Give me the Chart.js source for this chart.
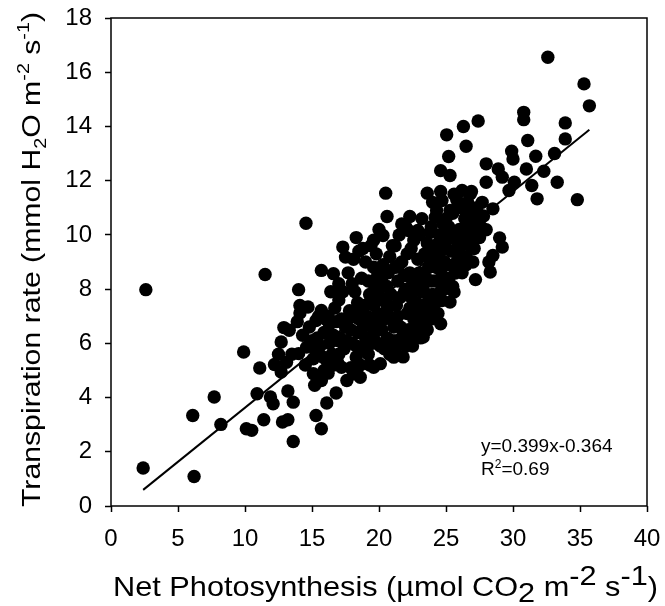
<!DOCTYPE html>
<html>
<head>
<meta charset="utf-8">
<script src="https://cdn.jsdelivr.net/npm/chart.js@4.4.1/dist/chart.umd.min.js"></script>
<style>
  body { margin: 0; background: #fff; }
  #wrap { width: 665px; height: 606px; }
</style>
</head>
<body>
<div id="wrap"><canvas id="chart" width="665" height="606"></canvas></div>
<script>
// net photosynthesis (x) and transpiration rate (y)
const photoX = [
  2.6, 2.4, 6.2, 6.1, 7.7, 8.2, 9.9, 10.1, 10.5, 11.4, 11.1, 10.9, 11.5, 11.9, 12.1, 12.2, 12.7, 12.7, 12.9, 13.3,
  12.8, 13.2, 13.2, 13.6, 13.6, 14.0, 14.1, 14.1, 14.7, 15.3, 15.7, 16.1, 16.8, 15.7, 15.3, 15.7, 16.6, 17.3, 17.5, 15.1,
  15.2, 15.7, 14.0, 14.6, 15.1, 16.1, 17.2, 17.6, 18.1, 19.6, 19.6, 14.55, 18.3, 18.8, 19.6, 20.3, 21.2,
  32.6, 35.3, 35.7, 30.8, 30.8, 33.9, 27.4, 26.3, 25.05, 33.9, 31.1, 26.5, 29.9, 33.1, 31.7, 25.2, 30.0, 28.0, 28.9, 31.0,
  24.6, 32.3, 25.3, 29.2, 28.0, 30.1, 33.3, 31.4, 26.2, 29.7, 20.5, 23.6, 26.8, 31.8, 34.8, 24.7, 27.7, 25.9, 28.5, 20.6,
  22.3, 24.2, 26.8, 27.3, 22.2, 22.9, 23.8, 28.0, 29.0, 29.2, 26.7, 26.0, 24.4, 25.05,
  28.5, 28.2, 28.3, 27.2, 25.7, 25.6, 25.3, 24.6, 23.3, 21.1, 20.1, 19.6, 18.6, 22.4, 22.9, 23.8, 24.7, 26.0, 26.8,
  15.6, 15.9, 16.3, 16.5, 16.8, 16.2, 17.0, 16.4, 17.1, 16.9, 17.4, 15.9,
  17.5, 17.8, 18.0, 18.3, 18.5, 18.2, 18.7, 17.7, 18.9, 19.0, 18.6, 17.9, 19.2, 19.4, 19.3, 18.1,
  19.7, 19.9, 20.0, 20.2, 20.4, 20.5, 20.7, 20.9, 20.8, 21.0, 19.8, 20.3,
  21.3, 21.4, 21.6, 21.7, 21.9, 22.0, 22.1, 22.3, 22.4, 22.6, 22.7, 22.8, 21.5, 22.9, 21.2, 23.0,
  23.1, 23.2, 23.4, 23.5, 23.7, 23.9, 24.0, 24.1, 24.2, 24.4, 24.5, 24.6, 24.8, 24.9, 23.6, 24.3,
  25.1, 25.2, 25.4, 25.5, 25.8, 26.0, 26.2, 26.4, 26.5, 26.9, 25.6, 26.6, 27.0, 27.5, 27.8,
  14.3, 14.8, 15.0, 14.5, 13.9, 13.5, 13.1, 12.5, 21.8, 22.5, 24.3,
  15.4, 15.8, 16.0, 16.6, 16.7, 17.2, 17.3, 17.6, 17.9, 18.1, 18.4, 18.4, 18.8, 18.9, 19.1, 19.5, 19.6, 19.8, 20.1, 20.1,
  20.4, 20.6, 20.6, 20.9, 21.1, 21.2, 21.4, 21.6, 21.8, 21.9, 22.1, 22.2, 22.4, 22.5, 22.7, 22.9, 23.0, 23.1, 23.3, 23.4,
  23.6, 23.7, 23.9, 24.0, 24.2, 24.3, 24.5, 24.7, 24.8, 25.0, 25.2, 25.4, 25.5, 25.7, 25.9, 26.1, 26.3, 26.5, 26.7, 27.1,
  27.3, 27.6, 16.2, 17.0, 18.0, 19.0, 19.9, 21.0, 22.0, 23.2, 24.0, 19.3, 20.8,
  16.9, 17.7, 18.6, 19.4, 19.2, 20.2, 20.6, 21.3, 21.5, 22.0, 22.3, 22.6, 23.1, 23.5, 23.8, 24.1, 24.6, 24.9, 25.3, 25.8,
  18.5, 19.4, 20.0, 17.0, 16.3, 15.5, 15.3, 16.6, 18.3, 19.6, 20.9, 22.1, 23.9, 26.2, 26.9, 27.4, 21.7, 23.0, 24.6, 25.0
];
const transY = [
  7.98, 1.4, 1.09, 3.34, 4.02, 3.01, 5.68, 2.85, 2.79, 3.18, 5.09, 4.14, 8.54, 4.02, 3.77, 5.22, 4.94, 6.05, 6.58, 6.48,
  3.1, 3.18, 4.24, 3.83, 2.38, 7.98, 7.4, 7.12, 7.34, 3.34, 2.85, 3.8, 4.17, 7.21, 6.84, 8.69, 8.57, 9.55, 9.18, 4.88,
  4.45, 4.63, 5.62, 5.86, 5.43, 5.37, 5.12, 4.63, 4.88, 8.81, 8.2, 10.43, 9.9, 9.5, 9.8, 9.98, 9.6,
  16.55, 15.57, 14.76, 14.52, 14.25, 14.13, 14.2, 14.0, 13.69, 13.54, 13.48, 13.27, 13.09, 13.0, 12.9, 12.89, 12.8, 12.62, 12.43, 12.43,
  12.37, 12.35, 12.19, 12.13, 11.94, 11.94, 11.94, 11.82, 11.64, 11.64, 11.54, 11.54, 11.51, 11.33, 11.3, 11.27, 11.2, 11.08, 10.96, 10.68,
  10.68, 10.65, 10.78, 10.59, 10.16, 10.16, 10.1, 10.19, 9.89, 9.55, 9.73, 9.49, 9.67, 9.49,
  9.24, 9.0, 8.63, 8.35, 8.59, 7.89, 7.52, 6.72, 6.23, 5.49, 5.25, 5.12, 4.75, 6.23, 6.55, 7.33, 7.58, 9.3, 9.61,
  5.9, 6.4, 6.0, 5.6, 6.8, 7.0, 7.6, 7.9, 6.2, 5.3, 5.8, 5.0,
  6.6, 7.2, 6.0, 5.5, 6.9, 7.9, 8.4, 8.6, 7.4, 6.2, 5.2, 5.1, 5.6, 6.8, 7.8, 9.1,
  6.1, 7.1, 8.0, 6.5, 5.8, 7.5, 8.6, 6.9, 9.2, 6.1, 9.3, 8.9,
  7.4, 8.3, 6.6, 9.0, 7.9, 5.9, 7.1, 8.6, 9.5, 6.9, 8.0, 7.5, 10.0, 9.1, 5.8, 6.7,
  8.4, 7.9, 9.3, 7.0, 8.8, 10.3, 7.8, 9.0, 8.3, 7.1, 10.0, 8.7, 9.5, 8.0, 6.5, 10.9,
  8.9, 10.3, 9.9, 10.8, 9.0, 10.2, 8.6, 10.6, 9.2, 10.1, 11.5, 11.2, 9.0, 9.9, 10.7,
  6.3, 6.6, 6.1, 5.2, 6.8, 5.6, 5.3, 5.6, 5.5, 5.9, 9.4,
  6.2, 5.5, 6.9, 6.3, 7.3, 6.9, 7.9, 6.1, 6.5, 7.0, 6.4, 7.5, 6.6, 5.8, 7.0, 6.0, 7.4, 6.7, 7.7, 5.9,
  6.9, 6.2, 8.1, 7.8, 6.6, 8.8, 7.0, 7.7, 6.3, 8.5, 9.3, 6.5, 7.7, 8.3, 6.2, 7.0, 8.6, 7.4, 8.0, 6.9,
  9.7, 7.6, 8.3, 9.5, 7.5, 8.8, 9.2, 8.3, 10.4, 9.9, 8.4, 9.4, 8.1, 10.0, 9.6, 11.0, 9.8, 8.9, 10.3, 9.5,
  11.0, 10.3, 4.9, 5.6, 8.2, 9.0, 8.5, 9.6, 10.3, 10.6, 11.2, 5.2, 5.6,
  6.1, 6.9, 7.2, 7.7, 8.3, 8.4, 7.2, 6.1, 8.9, 8.0, 7.3, 9.8, 6.2, 8.4, 9.1, 7.0, 7.9, 9.0, 10.9, 11.3,
  9.4, 9.6, 10.2, 8.2, 6.7, 7.0, 5.7, 5.2, 5.9, 6.4, 5.9, 6.0, 6.9, 10.0, 11.6, 10.4, 10.4, 10.0, 11.6, 10.6
];
// fitted line y = 0.399x - 0.364, end points as drawn
const fitX = [2.4, 35.7];
const fitY = [0.594, 13.88];
const xTicks = [0, 5, 10, 15, 20, 25, 30, 35, 40];
const yTicks = [0, 2, 4, 6, 8, 10, 12, 14, 16, 18];

const FONT = "'Liberation Sans', Arial, sans-serif";

const points = photoX.map((x, i) => ({ x: x, y: transY[i] }));
const fitLine = fitX.map((x, i) => ({ x: x, y: fitY[i] }));

// draws a run of text pieces with sub/superscripts, stretched to a target length
function drawRich(ctx, parts, size, target) {
  let total = 0;
  parts.forEach(p => {
    ctx.font = Math.round(size * (p.s || 1)) + 'px ' + FONT;
    total += ctx.measureText(p.t).width;
  });
  const k = target ? target / total : 1;
  ctx.scale(k, 1);
  let x = 0;
  parts.forEach(p => {
    ctx.font = Math.round(size * (p.s || 1)) + 'px ' + FONT;
    ctx.fillText(p.t, x, p.d || 0);
    x += ctx.measureText(p.t).width;
  });
}

const decor = {
  id: 'decor',
  afterDraw(chart) {
    const ctx = chart.ctx;
    const a = chart.chartArea;
    ctx.save();
    ctx.strokeStyle = '#000';
    ctx.lineWidth = 1.5;
    ctx.strokeRect(a.left, a.top, a.right - a.left, a.bottom - a.top);
    ctx.fillStyle = '#000';
    ctx.textBaseline = 'alphabetic';
    ctx.textAlign = 'left';

    // x axis title
    ctx.save();
    ctx.translate(113, 596);
    drawRich(ctx, [
      { t: 'Net Photosynthesis (\u00b5mol CO' },
      { t: '2', d: 6 },
      { t: ' m' },
      { t: '-2', d: -11 },
      { t: ' s' },
      { t: '-1', d: -11 },
      { t: ')' }
    ], 28, 545);
    ctx.restore();

    // y axis title
    ctx.save();
    ctx.translate(40, 507);
    ctx.rotate(-Math.PI / 2);
    drawRich(ctx, [
      { t: 'Transpiration rate (mmol H' },
      { t: '2', d: 6, s: 0.65 },
      { t: 'O m' },
      { t: '-2', d: -11, s: 0.65 },
      { t: ' s' },
      { t: '-1', d: -11, s: 0.65 },
      { t: ')' }
    ], 26, 495);
    ctx.restore();

    // regression text
    ctx.save();
    ctx.translate(481, 452);
    drawRich(ctx, [{ t: 'y=0.399x-0.364' }], 18.5);
    ctx.restore();
    ctx.save();
    ctx.translate(481, 475);
    drawRich(ctx, [{ t: 'R' }, { t: '2', d: -7, s: 0.65 }, { t: '=0.69' }], 18.5);
    ctx.restore();

    ctx.restore();
  }
};

new Chart(document.getElementById('chart').getContext('2d'), {
  type: 'scatter',
  data: {
    datasets: [
      {
        data: points,
        backgroundColor: '#000',
        borderColor: '#000',
        pointRadius: 6.7,
        borderWidth: 0,
        order: 2
      },
      {
        type: 'line',
        data: fitLine,
        borderColor: '#000',
        borderWidth: 2,
        pointRadius: 0,
        fill: false,
        order: 1
      }
    ]
  },
  options: {
    responsive: false,
    animation: false,
    layout: { padding: { left: 0, top: 18, right: 18, bottom: 0 } },
    plugins: { legend: { display: false }, tooltip: { enabled: false } },
    scales: {
      x: {
        type: 'linear',
        min: 0,
        max: 40,
        afterBuildTicks: s => { s.ticks = xTicks.map(v => ({ value: v })); },
        afterFit: s => { s.height = 100; s.paddingLeft = 0; s.paddingRight = 0; },
        border: { display: false },
        grid: { drawOnChartArea: false, drawTicks: true, tickLength: 6, tickColor: '#000', tickWidth: 1.5 },
        ticks: { color: '#000', padding: 13, maxRotation: 0, font: { family: FONT, size: 24 } }
      },
      y: {
        type: 'linear',
        min: 0,
        max: 18,
        afterBuildTicks: s => { s.ticks = yTicks.map(v => ({ value: v })); },
        afterFit: s => { s.width = 111; s.paddingTop = 0; s.paddingBottom = 0; },
        border: { display: false },
        grid: { drawOnChartArea: false, drawTicks: true, tickLength: 6, tickColor: '#000', tickWidth: 1.5 },
        ticks: { color: '#000', padding: 13, font: { family: FONT, size: 24 } }
      }
    }
  },
  plugins: [decor]
});
</script>
</body>
</html>
